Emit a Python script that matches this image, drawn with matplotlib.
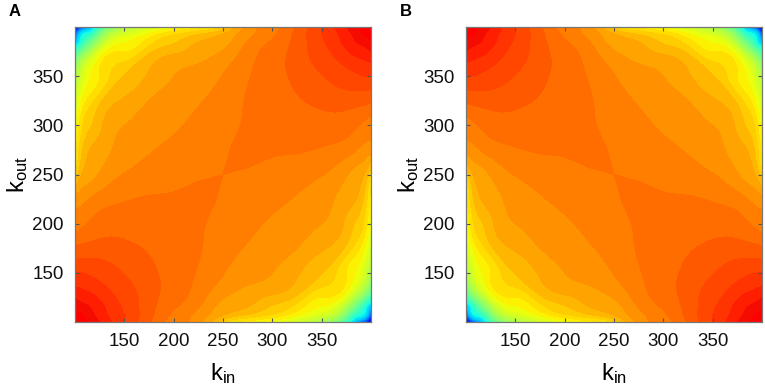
#!/usr/bin/env python3

import numpy as np
import matplotlib
matplotlib.use("Agg")
import matplotlib.pyplot as plt
import matplotlib.tri as mtri

plt.rcParams['font.family'] = ['Liberation Sans', 'DejaVu Sans']
plt.rcParams['mathtext.fontset'] = 'custom'
plt.rcParams['mathtext.rm'] = 'Liberation Sans'

k_grid = [100, 106, 115, 125, 150, 175, 200, 225, 250, 275, 300, 325, 350, 375, 385, 394, 400]
k_ticks = [150, 200, 250, 300, 350]

# panel A values, k_out = 100 .. 250, the top half is the same turned round
row_100 = [.925, .915, .902, .885, .845, .807, .775, .752, .685, .655, .63, .60, .55, .42, .30, .18, .08]
row_106 = [.915, .908, .895, .877, .845, .811, .78, .757, .722, .697, .676, .642, .60, .48, .38, .33, .18]
row_115 = [.902, .895, .885, .872, .8415, .813, .787, .766, .737, .725, .702, .675, .643, .55, .47, .38, .30]
row_125 = [.885, .877, .872, .862, .837, .8145, .793, .774, .747, .735, .72, .70, .665, .62, .55, .48, .42]
row_150 = [.845, .845, .8415, .837, .824, .81, .797, .783, .766, .753, .745, .727, .707, .665, .643, .60, .55]
row_175 = [.807, .811, .813, .8145, .81, .803, .796, .787, .773, .763, .754, .745, .727, .6995, .675, .642, .60]
row_200 = [.775, .78, .787, .793, .797, .796, .795, .788, .778, .7695, .762, .754, .745, .72, .702, .676, .63]
row_225 = [.752, .757, .766, .774, .783, .787, .788, .79, .782, .774, .7695, .763, .753, .735, .725, .697, .655]
row_250 = [.685, .722, .737, .747, .766, .773, .778, .782, .785, .782, .778, .773, .766, .747, .737, .722, .685]

lower = np.array([row_100, row_106, row_115, row_125, row_150, row_175, row_200, row_225, row_250])
z_a = np.vstack([lower, lower[-2::-1, ::-1]])
z_b = z_a[:, ::-1]

levels = np.arange(0.065, 0.91, 0.02)
W, H = 765, 390

jet = plt.get_cmap('jet').copy()
jet.set_over((1.0, 0.0, 0.0))


def grid_triangles(n, rising):
    # cut each cell along the way the bands run, so they come out straight
    out = []
    for j in range(n - 1):
        for i in range(n - 1):
            a = j * n + i
            b, c, d = a + 1, a + n, a + n + 1
            corner = (i <= 4 and j <= 4) or (i >= 11 and j >= 11)
            along = (not corner) if rising else corner
            if along:
                out += [[a, b, d], [a, d, c]]
            else:
                out += [[a, b, c], [b, d, c]]
    return out


def draw_panel(left, z, rising, letter, letter_x):
    ax = fig.add_axes([left / W, (H - 322) / H, 296 / W, 295 / H])
    xx, yy = np.meshgrid(np.array(k_grid, dtype=float), np.array(k_grid, dtype=float))
    if not rising:
        xx = xx[:, ::-1]
        z = z[:, ::-1]
    tri = mtri.Triangulation(xx.ravel(), yy.ravel(), grid_triangles(len(k_grid), True))
    refiner = mtri.UniformTriRefiner(tri)
    fine_tri, fine_z = refiner.refine_field(z.ravel(), subdiv=3)
    ax.tricontourf(fine_tri, fine_z, levels=levels, cmap=jet, vmin=0, vmax=1,
                   extend='both', antialiased=False)
    ax.set_xlim(100, 400)
    ax.set_ylim(100, 400)
    ax.set_xticks(k_ticks)
    ax.set_yticks(k_ticks)
    ax.tick_params(direction='in', length=3, width=0.8, color='#555555',
                   top=True, right=True, labelsize=13.5, pad=8, labelcolor='#111111')
    for s in ax.spines.values():
        s.set_color('#777777')
        s.set_linewidth(0.9)
    ax.set_xlabel(r'$\mathrm{k_{in}}$', fontsize=17, labelpad=8)
    ax.set_ylabel(r'$\mathrm{k_{out}}$', fontsize=17, labelpad=2)
    fig.text(letter_x / W, (H - 12) / H, letter, fontsize=12, fontweight='bold',
             va='center', ha='center')


fig = plt.figure(figsize=(W / 100, H / 100), dpi=100)
draw_panel(75, z_a, True, 'A', 15)
draw_panel(466, z_b, False, 'B', 406)
plt.savefig('out.png', dpi=100)
plt.close()
